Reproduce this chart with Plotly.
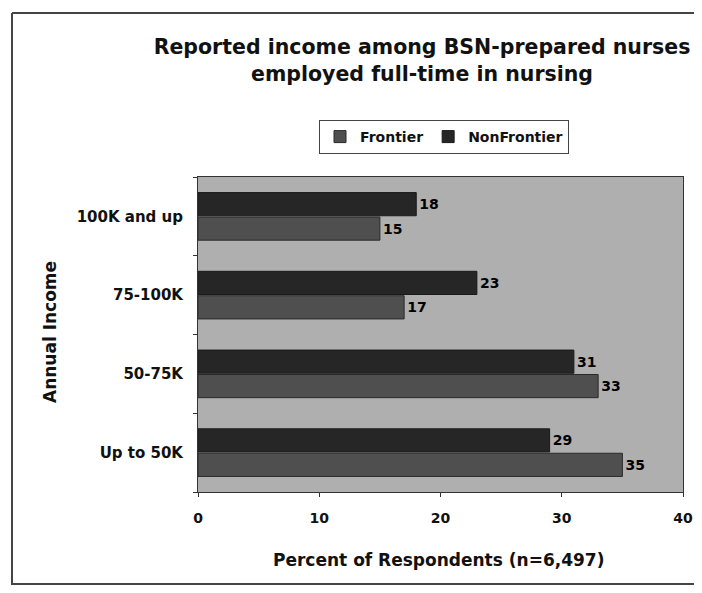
import plotly.graph_objects as go

categories = ["Up to 50K", "50-75K", "75-100K", "100K and up"]
frontier = [35, 33, 17, 15]
nonfrontier = [29, 31, 23, 18]
x_ticks = [0, 10, 20, 30, 40]

OFF = 8  # page body margin
W, H = 702 - 2 * OFF, 593 - 2 * OFF
# plot area in reference pixel coordinates
PX0, PX1, PY0, PY1 = 198, 683, 177, 492
L, R, T, B = PX0 - OFF, W - (PX1 - OFF), PY0 - OFF, H - (PY1 - OFF)
pw, ph = W - L - R, H - T - B

def px_x(x):
    return (x - OFF - L) / pw

def px_y(y):
    return (H - B - (y - OFF)) / ph

heavy = "DejaVu Sans, Liberation Sans, sans-serif"
ink = "#111111"

fig = go.Figure()
fig.add_trace(go.Bar(
    name="Frontier", y=categories, x=frontier, orientation="h",
    marker=dict(color="#4f4f4f", line=dict(color="#2a2a2a", width=1)),
    text=[str(v) for v in frontier], textposition="outside",
    textfont=dict(family=heavy, size=14, color="#000000", weight="bold"),
    cliponaxis=False,
))
fig.add_trace(go.Bar(
    name="NonFrontier", y=categories, x=nonfrontier, orientation="h",
    marker=dict(color="#262626", line=dict(color="#1a1a1a", width=1)),
    text=[str(v) for v in nonfrontier], textposition="outside",
    textfont=dict(family=heavy, size=14, color="#000000", weight="bold"),
    cliponaxis=False,
))

fig.update_layout(
    width=W, height=H,
    margin=dict(l=L, r=R, t=T, b=B, autoexpand=False),
    paper_bgcolor="white",
    plot_bgcolor="#afafaf",
    barmode="group",
    bargap=0.38,
    bargroupgap=0.05,
    font=dict(family=heavy, color=ink),
    title=dict(
        text="<b>Reported income among BSN-prepared nurses<br>employed full-time in nursing</b>",
        x=(422 - OFF) / W, xanchor="center", y=1 - (54 - OFF) / H, yanchor="middle",
        font=dict(family=heavy, size=20.5, color=ink), automargin=False,
    ),
    legend=dict(
        orientation="h", x=px_x(444), xanchor="center", y=px_y(137), yanchor="middle",
        bgcolor="white", bordercolor="#444444", borderwidth=1,
        font=dict(family=heavy, size=14, color=ink, weight="bold"),
        itemwidth=30, traceorder="normal",
    ),
    showlegend=True,
    xaxis=dict(
        range=[0, 40], tickvals=x_ticks, ticktext=[str(v) for v in x_ticks],
        showgrid=False, zeroline=False, automargin=False,
        showline=True, linecolor="#333333", linewidth=1, mirror=True,
        ticks="outside", ticklen=4, tickcolor="#333333",
        tickfont=dict(family=heavy, size=14, color=ink, weight="bold"),
        ticklabelstandoff=9,
    ),
    yaxis=dict(
        showgrid=False, zeroline=False, automargin=False,
        showline=True, linecolor="#333333", linewidth=1, mirror=True,
        ticks="outside", ticklen=4, tickcolor="#333333", tickson="boundaries",
        tickfont=dict(family=heavy, size=15, color=ink, weight="bold"),
        ticklabelstandoff=11,
    ),
    annotations=[
        dict(text="<b>Percent of Respondents (n=6,497)</b>", xref="paper", yref="paper",
             x=px_x(438), y=px_y(560), xanchor="center", yanchor="middle",
             showarrow=False, font=dict(family=heavy, size=17, color=ink)),
        dict(text="<b>Annual Income</b>", xref="paper", yref="paper",
             x=px_x(50), y=px_y(332), xanchor="center", yanchor="middle", textangle=-90,
             showarrow=False, font=dict(family=heavy, size=17, color=ink)),
    ],
    shapes=[
        dict(type="line", xref="paper", yref="paper",
             x0=px_x(12), x1=px_x(12), y0=px_y(585), y1=px_y(13),
             line=dict(color="#444444", width=2), layer="below"),
        dict(type="line", xref="paper", yref="paper",
             x0=px_x(12), x1=px_x(720), y0=px_y(13), y1=px_y(13),
             line=dict(color="#444444", width=2), layer="below"),
        dict(type="line", xref="paper", yref="paper",
             x0=px_x(12), x1=px_x(720), y0=px_y(584), y1=px_y(584),
             line=dict(color="#444444", width=2), layer="below"),
    ],
)

fig.write_html("out.html")
